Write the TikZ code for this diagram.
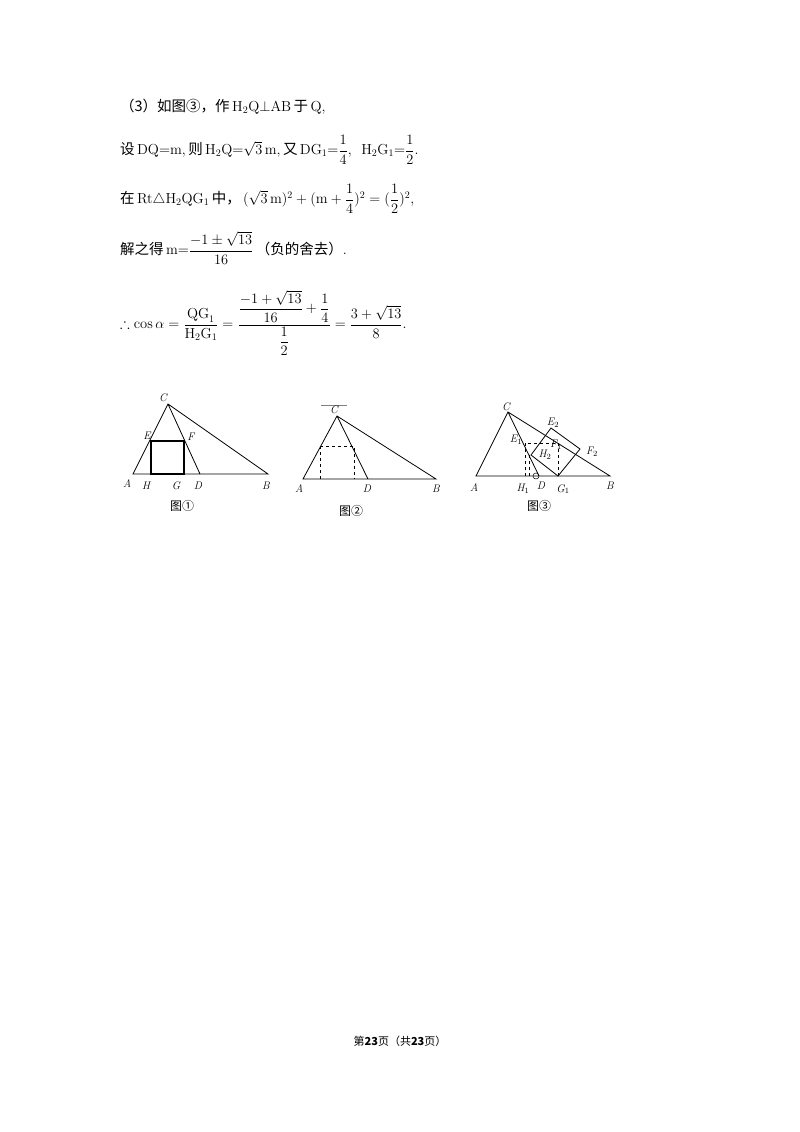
\documentclass[tikz,border=0pt]{standalone}
\usepackage{fontspec}
\usepackage{amsmath,amssymb}
\newfontfamily\cjk{Noto Sans CJK SC}
\begin{document}
\begin{tikzpicture}[x=1pt,y=-1pt,
  txt/.style={anchor=west,inner sep=0pt,font=\fontsize{14.5}{17}\selectfont},
  lab/.style={inner sep=0pt,font=\fontsize{11}{13}\selectfont\itshape},
  figcap/.style={inner sep=0pt,font=\fontsize{12}{14}\selectfont\cjk},
  ln/.style={line width=0.8pt},
  dsh/.style={dashed,line width=0.6pt}]
\useasboundingbox (0,0) rectangle (800,1132);
\fill[white] (0,0) rectangle (800,1132);
% text
\node[txt] (t1) at (120,107) {{\cjk（3）如图③，作}\,H$_2$Q$\perp$AB\,{\cjk 于}\,Q,};
\node[txt] (t2) at (120,150) {{\cjk 设}\,DQ=m,\,{\cjk 则}\,H$_2$Q=$\sqrt{3}\,$m,\,{\cjk 又}\,DG$_1$=$\dfrac14$,\ \ H$_2$G$_1$=$\dfrac12$.};
\node[txt] (t3) at (120,199) {{\cjk 在}\,Rt$\triangle$H$_2$QG$_1$\,{\cjk 中，}\,$(\sqrt{3}\,\mathrm{m})^2+(\mathrm{m}+\dfrac14)^2=(\dfrac12)^2$,};
\node[txt] (t4) at (120,248) {{\cjk 解之得}\,m=$\dfrac{-1\pm\sqrt{13}}{16}$\,{\cjk（负的舍去）}.};
\node[txt] (t5) at (120,323) {$\therefore\cos\alpha=\dfrac{\mathrm{QG}_1}{\mathrm{H}_2\mathrm{G}_1}=\dfrac{\dfrac{-1+\sqrt{13}}{16}+\dfrac14}{\dfrac12}=\dfrac{3+\sqrt{13}}{8}$.};
% figure 1
\coordinate (A1) at (133,474); \coordinate (C1) at (168,404);
\coordinate (D1) at (200,474); \coordinate (B1) at (268,474);
\coordinate (E1) at (151,441); \coordinate (F1) at (184,441);
\coordinate (H1) at (151,474); \coordinate (G1) at (184,474);
\draw[ln] (A1)--(B1)--(C1)--cycle (C1)--(D1);
\draw[line width=1.3pt] (E1)--(F1)--(G1)--(H1)--cycle;
\node[lab] at (127,484) {A}; \node[lab] at (146,486) {H};
\node[lab] at (176,486) {G}; \node[lab] at (198,486) {D};
\node[lab] at (266,486) {B}; \node[lab] at (163,398) {C};
\node[lab] at (147,436) {E}; \node[lab] at (191,437) {F};
\node[figcap] at (182,506) {图①};
% figure 2
\coordinate (A2) at (303,479); \coordinate (C2) at (337,416);
\coordinate (D2) at (368,479); \coordinate (B2) at (436,479);
\draw[ln] (A2)--(B2)--(C2)--cycle (C2)--(D2);
\draw[line width=0.5pt,gray] (321,405)--(347,405);
\draw[dsh] (320,446)--(354,446)--(354,479) (320,446)--(320,479);
\node[lab] at (299,489) {A}; \node[lab] at (367,489) {D};
\node[lab] at (436,489) {B}; \node[lab] at (334,410) {C};
\node[figcap] at (351,511) {图②};
% figure 3
\coordinate (A3) at (476,476); \coordinate (C3) at (508,412);
\coordinate (D3) at (539,476); \coordinate (B3) at (610,476);
\coordinate (G3) at (558,476); \coordinate (P3) at (580,449);
\coordinate (Q3) at (551,428); \coordinate (R3) at (531,455);
\draw[ln] (A3)--(B3)--(C3)--cycle (C3)--(D3);
\draw[ln] (G3)--(P3)--(Q3)--(R3)--cycle;
\draw[dsh] (525,476)--(525,443)--(558,443)--(558,476);
\draw[dsh] (529,476)--(529,453);
\draw[line width=0.5pt] (536,476) circle (3);
\node[lab] at (516,440) {E$_1$}; \node[lab] at (553,423) {E$_2$};
\node[lab] at (556,445) {F$_1$}; \node[lab] at (592,452) {F$_2$};
\node[lab] at (545,455) {H$_2$};
\node[lab] at (523,489) {H$_1$}; \node[lab] at (541,486) {D};
\node[lab] at (563,489) {G$_1$}; \node[lab] at (610,486) {B};
\node[lab] at (474,488) {A}; \node[lab] at (506,407) {C};
\node[figcap] at (539,506) {图③};
% footer
\node[inner sep=0pt,font=\fontsize{11}{13}\selectfont\cjk] (ft) at (400,1041) {第\textbf{23}页（共\textbf{23}页）};
\end{tikzpicture}
\end{document}
